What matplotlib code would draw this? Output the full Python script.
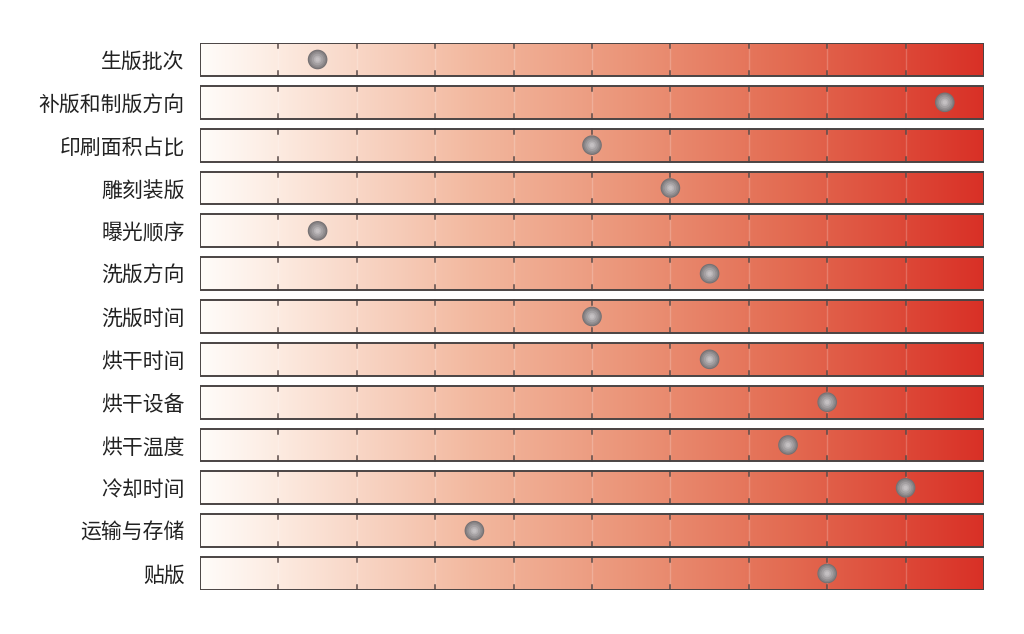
import numpy as np
import matplotlib
matplotlib.use("Agg")
import matplotlib.pyplot as plt
from matplotlib.colors import LinearSegmentedColormap

plt.rcParams['font.family'] = ['Noto Sans CJK SC', 'DejaVu Sans']

categories = ["生版批次", "补版和制版方向", "印刷面积占比", "雕刻装版", "曝光顺序",
              "洗版方向", "洗版时间", "烘干时间", "烘干设备", "烘干温度",
              "冷却时间", "运输与存储", "贴版"]
values = [1.5, 9.5, 5.0, 6.0, 1.5, 6.5, 5.0, 6.5, 8.0, 7.5, 9.0, 3.5, 8.0]
scale_max = 10

cmap = LinearSegmentedColormap.from_list("grad", [
    (0.0, (1.0, 0.99, 0.98)),
    (0.10, (0.99, 0.92, 0.88)),
    (0.35, (0.95, 0.72, 0.62)),
    (0.55, (0.92, 0.58, 0.47)),
    (0.75, (0.89, 0.42, 0.32)),
    (1.0, (0.85, 0.19, 0.15)),
])

fig = plt.figure(figsize=(10.24, 6.34), dpi=100)
ax = fig.add_axes([200/1024, 1-590/634, 784/1024, 547/634])
h = 0.77
n = len(categories)
grad = np.linspace(0, 1, 512).reshape(1, -1)
for i, (cat, v) in enumerate(zip(categories, values)):
    y0, y1 = i - h/2, i + h/2
    ax.imshow(grad, cmap=cmap, aspect='auto', extent=(0, scale_max, y1, y0),
              interpolation='bicubic', zorder=1)
    ax.add_patch(plt.Rectangle((0, y0), scale_max, h, fill=False,
                               edgecolor='#4a4444', linewidth=1.4, zorder=4))
    for t in range(1, scale_max):
        ax.plot([t, t], [y0, y1], color=(1, 1, 1, 0.2), lw=1.0, zorder=2)
        ax.plot([t, t], [y0, y0 + 0.12], color='#5a4a48', lw=1.1, zorder=3)
        ax.plot([t, t], [y1 - 0.12, y1], color='#5a4a48', lw=1.1, zorder=3)
    # shaded sphere
    shades = [(200, '#757173'), (160, '#858183'), (115, '#949092'), (70, '#a4a0a2'), (30, '#b6b2b4'), (10, '#c4c0c2')]
    for s, c in shades:
        ax.scatter([v], [i], s=s, color=c, edgecolors='none', zorder=5)

ax.set_xlim(0, scale_max)
ax.set_ylim(n - 1 + h/2, -h/2)
ax.set_yticks(range(n))
ax.set_yticklabels(categories, fontsize=15, color='#222222')
ax.tick_params(axis='y', length=0, pad=11)
ax.set_xticks([])
for s in ax.spines.values():
    s.set_visible(False)

fig.savefig("out.png", dpi=100, facecolor='white')
